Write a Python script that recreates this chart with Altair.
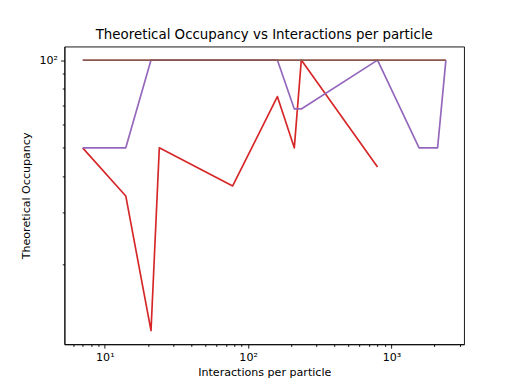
import altair as alt
import pandas as pd

# Data
x_vals = [7, 14, 21, 24, 78, 160, 210, 235, 800, 1560, 2100, 2400]
red_vals = [50, 34.2, 11.8, 50, 37, 75, 50, 100, 43, None, None, None]
purple_vals = [50, 50, 100, 100, 100, 100, 68, 68, 100, 50, 50, 100]
brown_vals = [100, 100, 100, 100, 100, 100, 100, 100, 100, 100, 100, 100]

x_ticks = [6, 7, 8, 9, 10, 20, 30, 40, 50, 60, 70, 80, 90, 100,
           200, 300, 400, 500, 600, 700, 800, 900, 1000, 2000, 3000]
y_ticks = [20, 30, 40, 50, 60, 70, 80, 90, 100]

x_domain = [5.225, 3213]
y_domain = [10.6, 111.3]

series = [("red", red_vals, "#d62728"),
          ("purple", purple_vals, "#9467bd"),
          ("brown", brown_vals, "#8c564b")]

is_major = "abs(log(datum.value)/LN10 - round(log(datum.value)/LN10)) < 1e-6"

x_axis = alt.Axis(
    values=x_ticks,
    labelExpr="datum.value == 10 ? '10¹' : datum.value == 100 ? '10²' : datum.value == 1000 ? '10³' : ''",
    tickSize=alt.condition(is_major, alt.value(3.9), alt.value(2.2)),
    labelPadding=3.0,
    titlePadding=4,
    grid=False,
    labelFlush=False,
    labelOverlap=False,
    title="Interactions per particle",
)
y_axis = alt.Axis(
    values=y_ticks,
    labelExpr="datum.value == 100 ? '10²' : ''",
    tickSize=alt.condition(is_major, alt.value(3.9), alt.value(2.2)),
    labelPadding=3.0,
    titlePadding=7.5,
    grid=False,
    labelOverlap=False,
    title="Theoretical Occupancy",
)

layers = []
for name, vals, col in series:
    df = pd.DataFrame({"x": x_vals, "y": vals}).dropna()
    layers.append(
        alt.Chart(df).mark_line(color=col, strokeWidth=1.67, strokeJoin="round").encode(
            x=alt.X("x:Q", scale=alt.Scale(type="log", domain=x_domain, nice=False), axis=x_axis),
            y=alt.Y("y:Q", scale=alt.Scale(type="log", domain=y_domain, nice=False), axis=y_axis),
            order="x:Q",
        )
    )

chart = alt.layer(*layers).properties(
    width=400,
    height=298,
    autosize=alt.AutoSizeParams(type="none"),
    padding={"left": 56.5, "top": 38.4, "right": 44, "bottom": 35},
    title=alt.TitleParams(
        "Theoretical Occupancy vs Interactions per particle",
        fontSize=13.4, font="DejaVu Sans", fontWeight="normal",
        offset=7, dy=13, baseline="alphabetic", anchor="middle", color="black",
    ),
).configure(
    background="white"
).configure_view(
    stroke="black", strokeWidth=0.9
).configure_axis(
    domainColor="black", domainWidth=0.9, tickColor="black", tickWidth=0.9,
    labelColor="black", titleColor="black",
    labelFont="DejaVu Sans", titleFont="DejaVu Sans",
    labelFontSize=11.1, titleFontSize=11.1, titleFontWeight="normal",
)

chart.save("out.html", embed_options={"renderer": "svg", "actions": False})
